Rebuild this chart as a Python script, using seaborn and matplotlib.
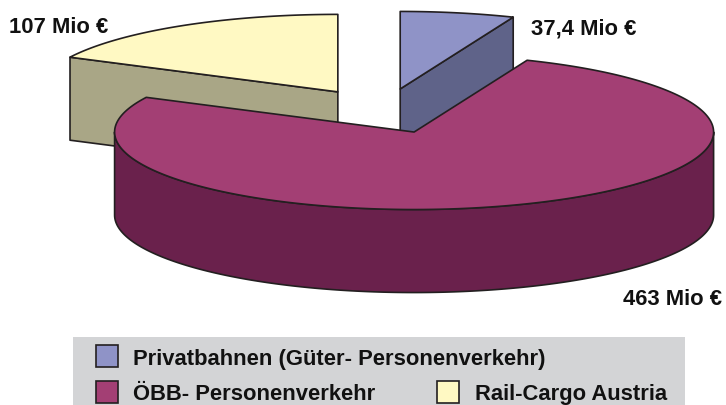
import numpy as np
import matplotlib
matplotlib.use("Agg")
import matplotlib.pyplot as plt
from matplotlib.patches import Polygon, Rectangle
import seaborn as sns

# ---- data ----
categories = ["Privatbahnen (Güter- Personenverkehr)", "ÖBB- Personenverkehr", "Rail-Cargo Austria"]
values = [37.4, 463, 107]
value_labels = ["37,4 Mio €", "463 Mio €", "107 Mio €"]
top_colors = ["#8F93C7", "#A33F74", "#FFF9C3"]
side_colors = ["#5F6389", "#6A214C", "#A9A686"]

sns.set_theme(style="white")
plt.rcParams["font.family"] = ["Liberation Sans", "DejaVu Sans"]

W, H = 726, 405
fig = plt.figure(figsize=(W / 100, H / 100), dpi=100)
ax = fig.add_axes([0, 0, 1, 1])
ax.set_xlim(0, W)
ax.set_ylim(H, 0)
ax.axis("off")

# ---- 3D pie geometry (pixel space) ----
X0, Y0 = 383.5, 111.0   # un-exploded centre
A, B = 299.5, 77.5      # ellipse semi axes
DEPTH = 83.0
EXPLODE = 0.29
EC = "#231F20"
LW = 1.2

def pt(cx, cy, t, dz=0.0):
    return (cx + A * np.cos(np.radians(t)), cy - B * np.sin(np.radians(t)) + dz)

total = float(sum(values))
spans = []
start = 90.0
for v in values:
    ang = v / total * 360.0
    spans.append((start, start - ang))   # clockwise
    start -= ang

slices = []
for i, (s, e) in enumerate(spans):
    mid = np.radians((s + e) / 2)
    cx = X0 + A * EXPLODE * np.cos(mid)
    cy = Y0 - B * EXPLODE * np.sin(mid)
    slices.append((i, s, e, cx, cy))

# draw back to front
slices.sort(key=lambda r: r[4])
for i, s, e, cx, cy in slices:
    # radial cut faces
    for t, visible in ((s, np.cos(np.radians(s)) < -1e-6), (e, np.cos(np.radians(e)) > 1e-6)):
        if visible:
            p1 = (cx, cy)
            p2 = pt(cx, cy, t)
            p3 = pt(cx, cy, t, DEPTH)
            p4 = (cx, cy + DEPTH)
            ax.add_patch(Polygon([p1, p2, p3, p4], closed=True, fc=side_colors[i], ec=EC, lw=LW, joinstyle="round"))
    # outer rim, front half only
    lo, hi = e, s
    segs = []
    for k in range(-2, 2):
        f_lo, f_hi = -180 + 360 * k, 0 + 360 * k
        a0, a1 = max(lo, f_lo), min(hi, f_hi)
        if a1 > a0:
            segs.append((a0, a1))
    for a0, a1 in segs:
        ts = np.linspace(a0, a1, 200)
        top = [pt(cx, cy, t) for t in ts]
        bot = [pt(cx, cy, t, DEPTH) for t in ts[::-1]]
        ax.add_patch(Polygon(top + bot, closed=True, fc=side_colors[i], ec=EC, lw=LW, joinstyle="round"))
    # top face
    ts = np.linspace(s, e, 300)
    poly = [(cx, cy)] + [pt(cx, cy, t) for t in ts]
    ax.add_patch(Polygon(poly, closed=True, fc=top_colors[i], ec=EC, lw=LW, joinstyle="round"))

# ---- value labels ----
FS = 15.8
lab_pos = {0: (531, 34, "left"), 1: (722, 305, "right"), 2: (9, 33, "left")}
for i, (x, y, ha) in lab_pos.items():
    ax.text(x, y, value_labels[i], ha=ha, va="baseline", fontsize=FS, fontweight="bold", color="#111111")

# ---- legend ----
ax.add_patch(Rectangle((73, 337), 612, 70, fc="#D3D4D6", ec="none"))
legend_layout = [(96, 345, 133, 365), (96, 381, 133, 400), (437, 381, 475, 400)]
for i, (sx, sy, tx, ty) in enumerate(legend_layout):
    ax.add_patch(Rectangle((sx, sy), 22, 22, fc=top_colors[i], ec=EC, lw=1.2))
    ax.text(tx, ty, categories[i], ha="left", va="baseline", fontsize=FS, fontweight="bold", color="#111111")

fig.savefig("out.png", dpi=100)
